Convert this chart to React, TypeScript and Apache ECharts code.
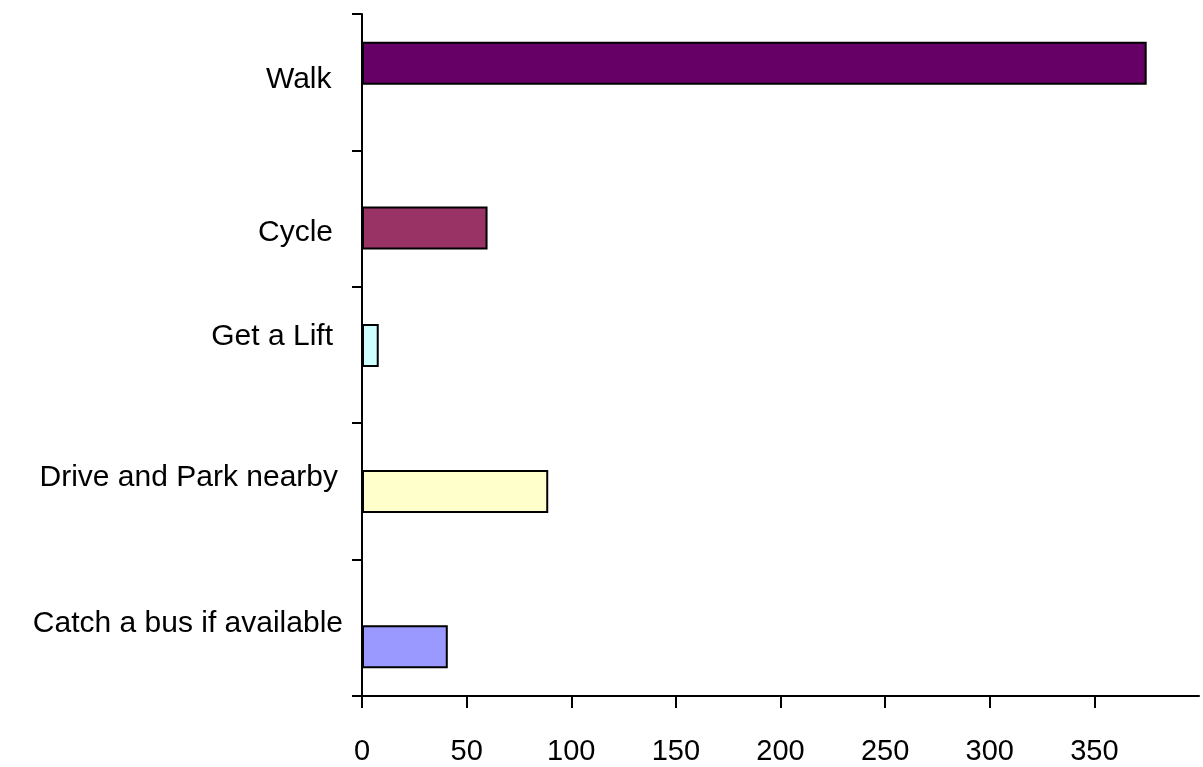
import React, { useEffect, useRef } from "react";
import * as echarts from "echarts";

// Categories listed bottom-to-top as they appear on the vertical axis
const categories = [
  "Catch a bus if available",
  "Drive and Park nearby",
  "Get a Lift",
  "Cycle",
  "Walk",
];
const values = [41, 89, 8, 60, 375];
const colors = ["#9999FF", "#FFFFCC", "#CCFFFF", "#993366", "#660066"];
// order in which the series are declared (index into categories)
const seriesOrder = [4, 2, 1, 3, 0];

// label style tweaks (vertical shift in px, right inset in px) per category
const labelShiftY = [-6.5, -16, -20.5, 11.5, -5];
const labelInsetRight = [0, 5, 10, 10, 11.5];

const FONT = "'Liberation Sans', Arial, Helvetica, sans-serif";

export default function App() {
  const ref = useRef<HTMLDivElement>(null);
  useEffect(() => {
    const chart = echarts.init(ref.current!, null, { renderer: "svg" });
    const series = seriesOrder.map((ci) => ({
      type: "bar",
      name: categories[ci],
      data: categories.map((_, j) => (j === ci ? values[ci] : null)),
      barWidth: 43,
      barGap: "-78%",
      itemStyle: { color: colors[ci], borderColor: "#000", borderWidth: 2 },
    }));
    const rich: Record<string, any> = {};
    categories.forEach((_, i) => {
      const s = labelShiftY[i];
      rich["c" + i] = {
        fontSize: 30,
        color: "#000",
        fontFamily: FONT,
        padding: [s > 0 ? 2 * s : 0, labelInsetRight[i], s < 0 ? -2 * s : 0, 0],
      };
    });
    const line = { color: "#000", width: 2 };
    chart.setOption({
      animation: false,
      grid: { left: 362, right: 4, top: 14, bottom: 71, containLabel: false },
      xAxis: {
        type: "value",
        min: 0,
        max: 400,
        interval: 50,
        axisLine: { show: true, lineStyle: line },
        axisTick: { show: true, length: 12, lineStyle: line },
        splitLine: { show: false },
        axisLabel: {
          fontSize: 29,
          color: "#000",
          margin: 39,
          showMaxLabel: false,
          fontFamily: FONT,
        },
      },
      yAxis: {
        type: "category",
        data: categories,
        axisLine: { show: true, lineStyle: line },
        axisTick: { show: true, length: 10, lineStyle: line },
        axisLabel: {
          margin: 19,
          formatter: (v: string) => `{c${categories.indexOf(v)}|${v}}`,
          rich,
        },
      },
      series,
    });
    return () => chart.dispose();
  }, []);
  return (
    <div
      ref={ref}
      style={{ position: "fixed", left: 0, top: 0, width: 1203, height: 767 }}
    />
  );
}
